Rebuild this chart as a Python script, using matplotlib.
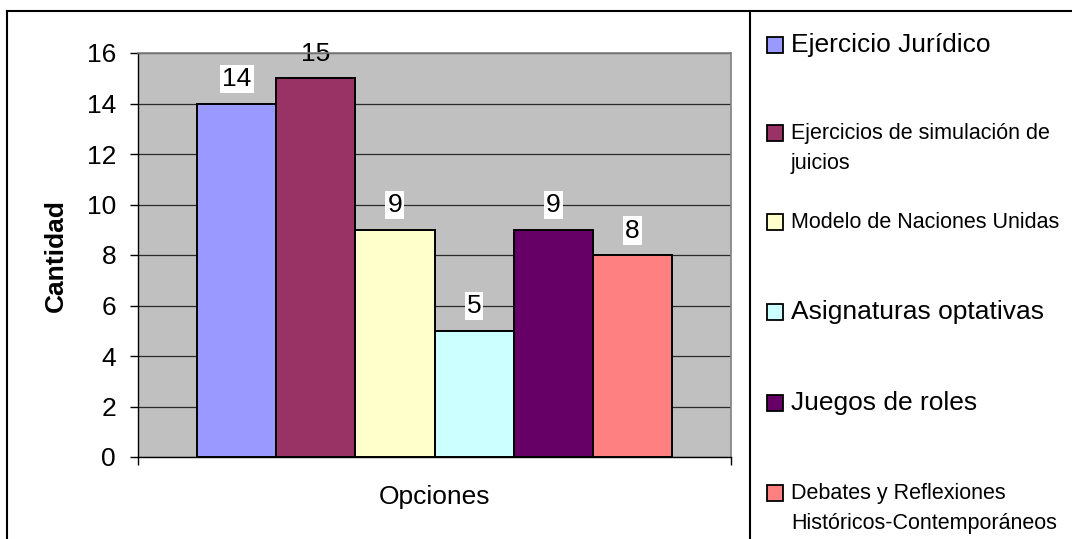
import matplotlib
matplotlib.use("Agg")
import matplotlib.pyplot as plt
from matplotlib.patches import Rectangle
from matplotlib.lines import Line2D

# ---- data ----
series_names = [
    "Ejercicio Jurídico",
    "Ejercicios de simulación de\njuicios",
    "Modelo de Naciones Unidas",
    "Asignaturas optativas",
    "Juegos de roles",
    "Debates y Reflexiones\nHistóricos-Contemporáneos",
]
values = [14, 15, 9, 5, 9, 8]
colors = ["#9999FF", "#993366", "#FFFFCC", "#CCFFFF", "#660066", "#FF8080"]
yticks = [0, 2, 4, 6, 8, 10, 12, 14, 16]
x_label = "Opciones"
y_label = "Cantidad"

# ---- styles ----
legend_sizes = [19, 15.5, 15.5, 19, 19, 15.5]
FONT = "Liberation Sans"
plt.rcParams["font.family"] = [FONT, "DejaVu Sans"]

W, H = 1072, 539
fig = plt.figure(figsize=(W / 100, H / 100), dpi=100)
fig.patch.set_facecolor("white")

def fx(px):
    return px / W

def fy(py):
    return 1 - py / H

ax = fig.add_axes([fx(138), fy(457), fx(731) - fx(138), fy(53) - fy(457)])
ax.set_facecolor("#C0C0C0")
ax.set_xlim(0, 1)
ax.set_ylim(yticks[0], yticks[-1])

n = len(values)
gap = 1.5
w = 1.0 / (n + gap)
xs = [gap / 2 * w + (i + 0.5) * w for i in range(n)]
ax.bar(xs, values, width=w, color=colors, edgecolor="black", linewidth=1.4, zorder=2)

ax.set_yticks(yticks)
ax.set_yticklabels([str(t) for t in yticks])
ax.set_xticks([0, 1])
ax.set_xticklabels(["", ""])
ax.tick_params(axis="both", direction="out", length=5.8, width=1.0, color="black",
               labelsize=19, pad=10)
ax.yaxis.grid(True, color="#2a2a2a", linewidth=0.9, zorder=1)
ax.set_axisbelow(True)

for s in ["left", "bottom"]:
    ax.spines[s].set_color("black")
    ax.spines[s].set_linewidth(1.0)
for s in ["top", "right"]:
    ax.spines[s].set_color("#808080")
    ax.spines[s].set_linewidth(1.2)
ax.spines["top"].set_zorder(6)

# value labels
per_unit_px = (457 - 53) / (yticks[-1] - yticks[0])
offset_px = 24.5
for x, v in zip(xs, values):
    top = v + (offset_px + 17) / per_unit_px
    kw = {}
    if top < yticks[-1]:
        kw["bbox"] = dict(boxstyle="square,pad=0.08", facecolor="white", edgecolor="none")
    ax.annotate(str(v), (x, v), xytext=(0, offset_px * 0.72), textcoords="offset points",
                ha="center", va="center", fontsize=19, zorder=4, **kw)

fig.text(fx(56), fy(256), y_label, rotation=90, ha="center", va="center",
         fontsize=19, fontweight="bold")
fig.text(fx(434), fy(497), x_label, ha="center", va="center", fontsize=19)

# outer chart border and legend divider
fig.add_artist(Line2D([fx(7), fx(7)], [fy(11), 0], color="black", lw=1.5, transform=fig.transFigure))
fig.add_artist(Line2D([fx(7), 1], [fy(11), fy(11)], color="black", lw=1.5, transform=fig.transFigure))
fig.add_artist(Line2D([fx(750), fx(750)], [fy(11), 0], color="black", lw=1.5, transform=fig.transFigure))

# legend
entry_y = [45, 133, 222, 312, 403, 493]
sq = 16
for name, c, yy, fs in zip(series_names, colors, entry_y, legend_sizes):
    fig.add_artist(Rectangle((fx(767), fy(yy + sq / 2)), fx(sq), fy(0) - fy(sq),
                             facecolor=c, edgecolor="black", lw=1.3,
                             transform=fig.transFigure))
    for k, line in enumerate(name.split("\n")):
        fig.text(fx(791), fy(yy + k * 30), line, ha="left", va="center",
                 fontsize=fs)

fig.savefig("out.png", dpi=100)
